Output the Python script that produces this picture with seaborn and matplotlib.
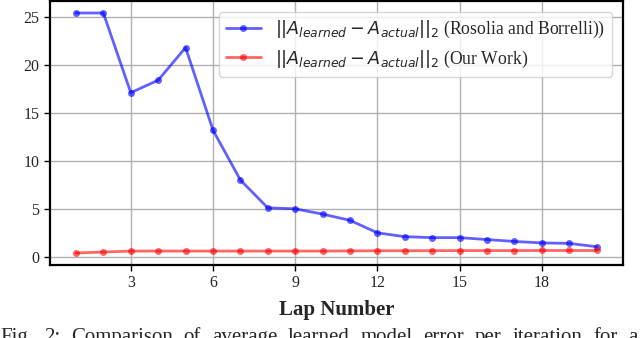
import matplotlib
matplotlib.use("Agg")
import matplotlib.pyplot as plt
import seaborn as sns
import pandas as pd

laps = list(range(1, 21))
rosolia = [25.4, 25.4, 17.1, 18.4, 21.8, 13.2, 8.0, 5.1, 5.0, 4.45,
           3.8, 2.5, 2.1, 2.0, 2.0, 1.8, 1.6, 1.45, 1.4, 1.05]
ours = [0.4, 0.5, 0.6, 0.6, 0.6, 0.6, 0.6, 0.6, 0.6, 0.6,
        0.62, 0.63, 0.63, 0.64, 0.65, 0.65, 0.65, 0.66, 0.66, 0.66]
labels = [r"$||A_{learned} - A_{actual}||_2$ (Rosolia and Borrelli))",
          r"$||A_{learned} - A_{actual}||_2$ (Our Work)"]
xticks = [3, 6, 9, 12, 15, 18]
yticks = [0, 5, 10, 15, 20, 25]
caption = "Fig. 2: Comparison of average learned model error per iteration for a"

sns.set_style("ticks")
plt.rcParams['font.family'] = ['Liberation Serif', 'DejaVu Serif']
plt.rcParams['mathtext.fontset'] = 'dejavusans'

fig = plt.figure(figsize=(6.4, 3.38), dpi=100)
ax = fig.add_axes([0.078, 0.216, 0.895, 0.781])

df = pd.DataFrame({"lap": laps, "a": rosolia, "b": ours})
sns.lineplot(data=df, x="lap", y="a", ax=ax, color="blue", alpha=0.62,
             marker="o", markersize=5, markeredgewidth=0, linewidth=2,
             label=labels[0])
sns.lineplot(data=df, x="lap", y="b", ax=ax, color="red", alpha=0.6,
             marker="o", markersize=5, markeredgewidth=0, linewidth=2,
             label=labels[1])

ax.set_xticks(xticks)
ax.set_yticks(yticks)
ax.tick_params(labelsize=11.5, length=4, width=1, color="black")
ax.grid(True, color="#b0b0b0", linewidth=1)
for s in ax.spines.values():
    s.set_color("black")
    s.set_linewidth(1.6)
ax.set_xlabel("Lap Number", fontsize=15, fontweight="bold", labelpad=6)
ax.set_ylabel("")
ax.legend(loc="upper right", fontsize=12.7, frameon=True, framealpha=0.8,
          edgecolor="#cccccc", fancybox=True, borderaxespad=0.6)

# justified caption across the full width
fig.canvas.draw()
renderer = fig.canvas.get_renderer()
words = caption.split(" ")
cap_y = -0.012
texts = [fig.text(0, cap_y, w, fontsize=15, ha="left", va="baseline") for w in words]
widths = [t.get_window_extent(renderer).width for t in texts]
W = fig.bbox.width
gap = (W - 2 - sum(widths)) / (len(words) - 1)
x = 0.0
for t, w in zip(texts, widths):
    t.set_x(x / W)
    x += w + gap

fig.savefig("out.png", dpi=100)
